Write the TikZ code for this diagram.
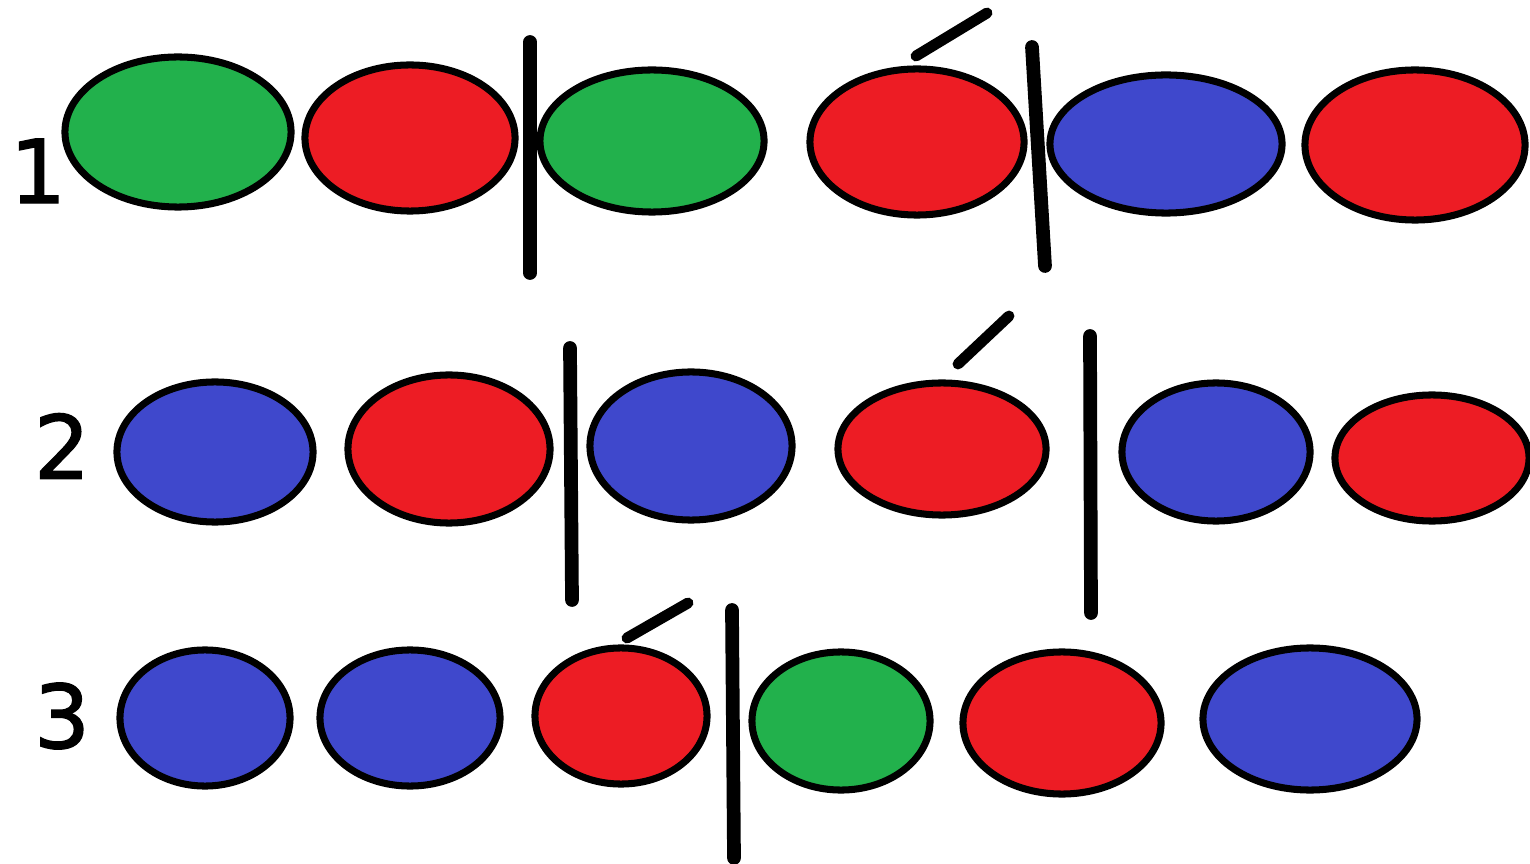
\documentclass[tikz,border=0pt]{standalone}
\usepackage{fontspec}
\setmainfont{DejaVu Sans}[BoldFont=DejaVu Sans,BoldFeatures={FakeBold=1.6}]
\definecolor{pgreen}{RGB}{34,177,76}
\definecolor{pred}{RGB}{237,28,36}
\definecolor{pblue}{RGB}{63,72,204}
\begin{document}
\begin{tikzpicture}[x=0.01cm,y=-0.01cm,
  ball/.style={draw=black,line width=2pt},
  bar/.style={line width=3.9pt,line cap=round},
  acc/.style={line width=3.1pt,line cap=round},
  lbl/.style={font=\fontsize{25}{27}\selectfont\bfseries,inner sep=0pt}]
\useasboundingbox[fill=white] (0,0) rectangle (1530,864);
% row 1
\foreach \x/\y/\rx/\ry/\c in {178/132/1.13/0.75/pgreen, 410/138/1.05/0.73/pred, 652/141/1.12/0.71/pgreen, 917/142/1.07/0.73/pred, 1166/144/1.16/0.69/pblue, 1415/145/1.10/0.75/pred}
  \draw[ball,fill=\c] (\x,\y) ellipse [x radius=\rx cm, y radius=\ry cm];
% row 2
\foreach \x/\y/\rx/\ry/\c in {215/452/0.98/0.70/pblue, 449/449/1.01/0.74/pred, 691/446/1.01/0.74/pblue, 942/449/1.04/0.66/pred, 1216/452/0.94/0.69/pblue, 1432/458/0.97/0.63/pred}
  \draw[ball,fill=\c] (\x,\y) ellipse [x radius=\rx cm, y radius=\ry cm];
% row 3
\foreach \x/\y/\rx/\ry/\c in {205/718/0.85/0.68/pblue, 410/718/0.90/0.68/pblue, 621/716/0.86/0.68/pred, 841/721/0.89/0.69/pgreen, 1062/723/0.99/0.71/pred, 1310/719/1.07/0.71/pblue}
  \draw[ball,fill=\c] (\x,\y) ellipse [x radius=\rx cm, y radius=\ry cm];
% bars
\draw[bar] (530,42) -- (530,273);
\draw[bar] (1032,47) -- (1045,266);
\draw[bar] (570,348) -- (572,600);
\draw[bar] (1090,336) -- (1091,613);
\draw[bar] (732,610) -- (734,858);
% accents
\draw[acc] (916,56) -- (987,13);
\draw[acc] (958,364) -- (1009,316);
\draw[acc] (627,638) -- (688,603);
% labels
\node[lbl] (l1) at (38,171) {1};
\node[lbl] (l2) at (62,446) {2};
\node[lbl] (l3) at (62,716) {3};
\end{tikzpicture}
\end{document}
